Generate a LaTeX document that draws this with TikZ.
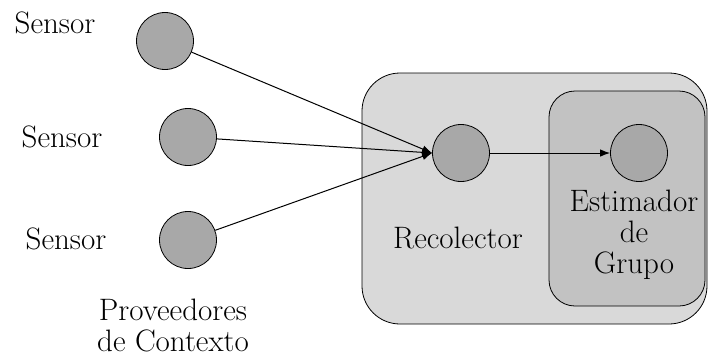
\documentclass[tikz,border=0pt]{standalone}
\usetikzlibrary{arrows.meta}
\begin{document}
\begin{tikzpicture}[x=1pt,y=-1pt,
  dot/.style={circle,draw=black,line width=0.8pt,fill=gray!68,minimum size=57pt,inner sep=0pt},
  lbl/.style={font=\fontsize{31}{31}\selectfont,align=center,inner sep=0pt},
  con/.style={line width=1pt,-{Latex[length=10pt,width=7.5pt]}},
  box/.style={draw=black,line width=0.8pt,rounded corners=#1}]
\useasboundingbox (0,0) rectangle (709,357);
\draw[box=38pt,fill=gray!30] (362,73) rectangle (707,324);
\draw[box=26pt,fill=gray!48] (549,91) rectangle (705,306);
\node[dot] (s1) at (165,41) {};
\node[dot] (s2) at (188,137) {};
\node[dot] (s3) at (188,240) {};
\node[dot] (rec) at (461,153) {};
\node[dot] (est) at (639,153) {};
\node[lbl,anchor=base] (t1) at (55,33) {Sensor};
\node[lbl,anchor=base] (t2) at (62,147) {Sensor};
\node[lbl,anchor=base] (t3) at (66,249) {Sensor};
\node[lbl] (prov) at (173,325) {Proveedores\\de Contexto};
\node[lbl,anchor=base] (trec) at (458,248) {Recolector};
\node[lbl] (test) at (634,235) {Estimador\\de\\Grupo};
\draw[con] (s1) -- (rec.west);
\draw[con] (s2) -- (rec.west);
\draw[con] (s3) -- (rec.west);
\draw[con] (rec) -- (est);
\end{tikzpicture}
\end{document}
